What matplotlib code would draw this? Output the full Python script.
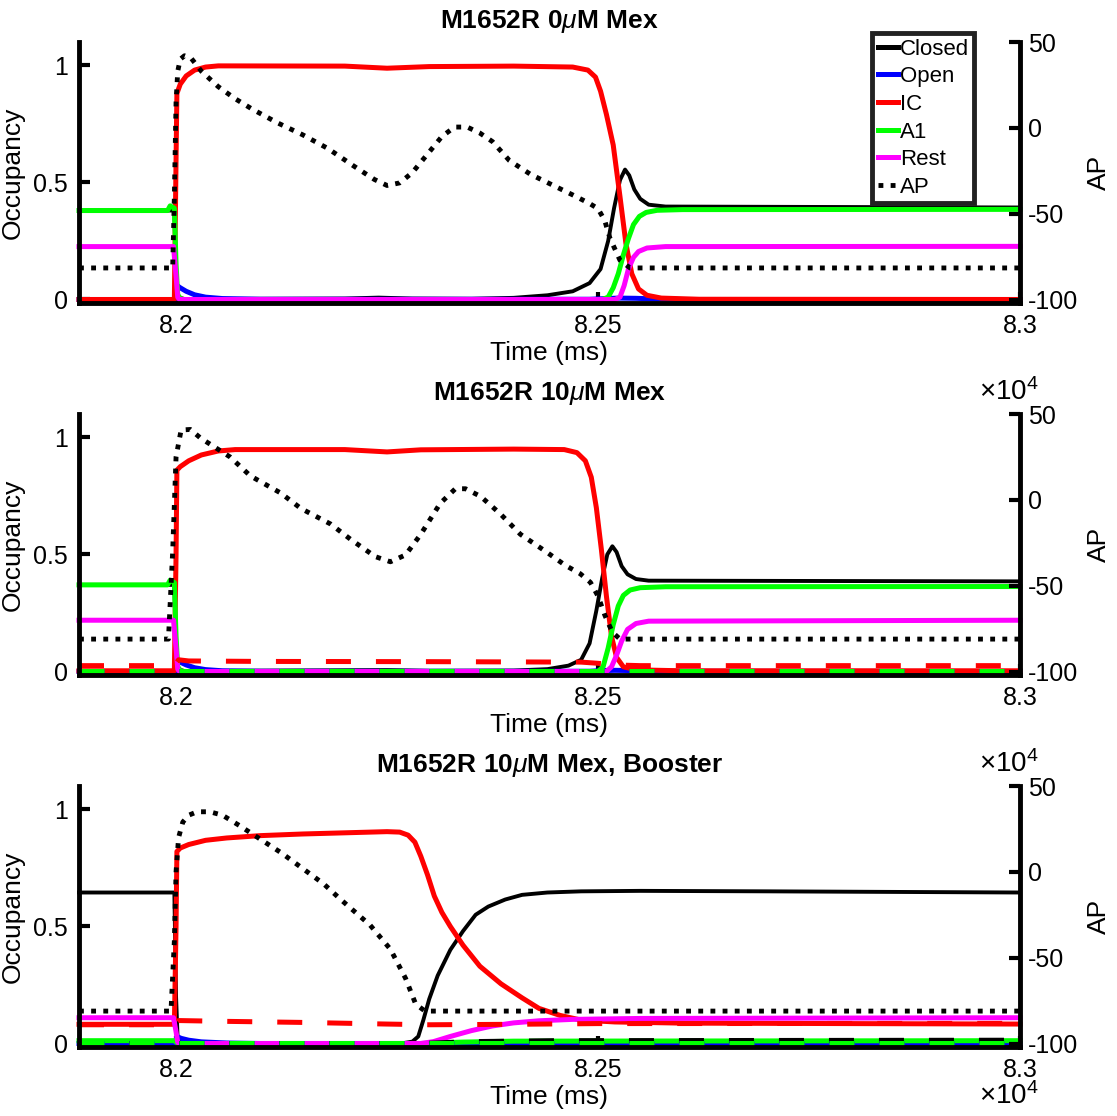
import numpy as np
import matplotlib
matplotlib.use('Agg')
import matplotlib.pyplot as plt
from matplotlib.lines import Line2D

plt.rcParams['font.family'] = ['Liberation Sans', 'DejaVu Sans']
plt.rcParams['mathtext.fontset'] = 'custom'
plt.rcParams['mathtext.rm'] = 'Liberation Sans'
plt.rcParams['mathtext.it'] = 'Liberation Sans:italic'
plt.rcParams['mathtext.bf'] = 'Liberation Sans:bold'
plt.rcParams['axes.unicode_minus'] = False

# ---- data (time in ms, occupancy 0..1, AP in mV) ----
titles = [r'M1652R 0$\mu$M Mex', r'M1652R 10$\mu$M Mex', r'M1652R 10$\mu$M Mex, Booster']
xticks = [82000, 82500, 83000]
xticklabels = ['8.2', '8.25', '8.3']
state_names = ['Closed', 'Open', 'IC', 'A1', 'Rest']
state_colors = ['black', '#0000ff', '#ff0000', '#00ff00', '#ff00ff']

# panel 1: 0 uM Mex
p1_closed = [(81885, 0.38), (81998, 0.38), (82000, 0.1), (82002, 0.01), (82010, 0.002), (82200, 0.004),
             (82240, 0.008), (82280, 0.004), (82350, 0.003), (82400, 0.007), (82440, 0.018), (82470, 0.035),
             (82490, 0.07), (82503, 0.13), (82512, 0.25), (82519, 0.39), (82526, 0.51), (82532, 0.555),
             (82537, 0.53), (82543, 0.47), (82550, 0.43), (82560, 0.405), (82580, 0.397), (83000, 0.393)]
p1_open = [(81885, 0), (81999, 0), (82001, 0.06), (82005, 0.05), (82012, 0.035), (82022, 0.02), (82035, 0.01),
           (82055, 0.004), (82100, 0.001), (82490, 0.001), (82510, 0.004), (82525, 0.006), (82545, 0.005),
           (82570, 0.002), (82600, 0), (83000, 0)]
p1_ic = [(81885, 0), (81998, 0), (82000, 0.6), (82001, 0.88), (82005, 0.92), (82012, 0.955), (82022, 0.98),
         (82035, 0.993), (82050, 0.998), (82200, 0.997), (82250, 0.988), (82300, 0.995), (82400, 0.997),
         (82470, 0.993), (82488, 0.98), (82497, 0.95), (82503, 0.89), (82510, 0.79), (82518, 0.66),
         (82526, 0.44), (82533, 0.24), (82540, 0.11), (82548, 0.045), (82558, 0.018), (82575, 0.006),
         (82620, 0.001), (83000, 0)]
p1_a1 = [(81885, 0.38), (81990, 0.38), (81993, 0.4), (81998, 0.39), (82000, 0.15), (82002, 0.02), (82006, 0),
         (82505, 0), (82512, 0.01), (82518, 0.05), (82524, 0.11), (82530, 0.19), (82536, 0.26), (82542, 0.32),
         (82549, 0.355), (82557, 0.372), (82570, 0.381), (82600, 0.384), (83000, 0.385)]
p1_rest = [(81885, 0.226), (81997, 0.226), (82000, 0.1), (82002, 0.01), (82004, 0), (82520, 0), (82526, 0.01),
           (82531, 0.06), (82536, 0.13), (82542, 0.18), (82548, 0.205), (82558, 0.22), (82580, 0.226),
           (83000, 0.227)]
p1_ap = [(81885, -81.5), (81996, -81.5), (81998, -40), (82000, 15), (82002, 33), (82005, 40), (82010, 42),
         (82018, 40.5), (82030, 33), (82050, 24), (82070, 17), (82090, 11), (82120, 3), (82150, -4),
         (82180, -12), (82210, -22), (82235, -30), (82250, -33.5), (82265, -32), (82280, -26), (82300, -14),
         (82315, -5), (82330, 0.5), (82345, 0.5), (82360, -3), (82375, -8), (82395, -19), (82420, -27),
         (82445, -33), (82470, -39), (82490, -44), (82500, -47), (82508, -54), (82514, -64), (82526, -77),
         (82538, -81.5), (83000, -81.5)]

# panel 2: 10 uM Mex
p2_closed = [(81885, 0.37), (81998, 0.37), (82000, 0.1), (82002, 0.01), (82010, 0.002), (82250, 0.006),
             (82300, 0.003), (82400, 0.004), (82440, 0.01), (82465, 0.025), (82480, 0.05), (82490, 0.12),
             (82498, 0.26), (82505, 0.4), (82511, 0.5), (82517, 0.535), (82522, 0.51), (82528, 0.45),
             (82535, 0.415), (82545, 0.395), (82560, 0.388), (83000, 0.385)]
p2_open = [(81885, 0), (81999, 0), (82001, 0.05), (82005, 0.04), (82012, 0.028), (82022, 0.016), (82035, 0.008),
           (82055, 0.003), (82100, 0.001), (82490, 0.001), (82505, 0.004), (82520, 0.005), (82540, 0.004),
           (82570, 0.001), (83000, 0)]
p2_ic = [(81885, 0.003), (81998, 0.003), (82000, 0.5), (82001, 0.86), (82005, 0.875), (82015, 0.9),
         (82030, 0.925), (82050, 0.942), (82070, 0.948), (82200, 0.948), (82250, 0.938), (82290, 0.947),
         (82400, 0.95), (82460, 0.948), (82475, 0.935), (82485, 0.9), (82492, 0.83), (82498, 0.7),
         (82504, 0.52), (82510, 0.32), (82516, 0.15), (82522, 0.06), (82530, 0.02), (82545, 0.007),
         (82600, 0.003), (83000, 0.003)]
p2_a1 = [(81885, 0.37), (81990, 0.37), (81993, 0.39), (81998, 0.38), (82000, 0.15), (82002, 0.02), (82006, 0),
         (82500, 0), (82506, 0.02), (82512, 0.1), (82518, 0.2), (82524, 0.28), (82530, 0.325), (82538, 0.348),
         (82550, 0.358), (82580, 0.362), (83000, 0.363)]
p2_rest = [(81885, 0.219), (81997, 0.219), (82000, 0.1), (82002, 0.01), (82004, 0), (82510, 0), (82516, 0.02),
           (82522, 0.07), (82528, 0.13), (82535, 0.18), (82545, 0.205), (82560, 0.215), (83000, 0.219)]
p2_ap = [(81885, -81), (81991, -81), (81996, -30), (82000, 25), (82006, 40.7), (82017, 41), (82029, 36),
         (82064, 25), (82088, 14), (82124, 4), (82148, -5), (82183, -14), (82207, -23), (82236, -33),
         (82254, -36), (82272, -32), (82290, -20), (82313, -2), (82331, 6.5), (82343, 6.5), (82361, 2),
         (82384, -8), (82408, -20), (82438, -30), (82461, -38), (82479, -43), (82491, -48), (82500, -56),
         (82508, -67), (82517, -77), (82526, -81), (83000, -81)]
p2_ic_drug = [(81885, 0.025), (81998, 0.025), (82003, 0.05), (82015, 0.045), (82100, 0.043), (82300, 0.042),
              (82480, 0.04), (82500, 0.035), (82520, 0.028), (82550, 0.025), (83000, 0.025)]
p2_a1_drug = [(81885, 0.003), (83000, 0.003)]
p2_open_drug = [(81885, 0.002), (83000, 0.002)]

# panel 3: 10 uM Mex, booster
p3_closed = [(81885, 0.645), (81998, 0.645), (82000, 0.2), (82002, 0.01), (82010, 0.002), (82270, 0.002),
             (82280, 0.008), (82287, 0.03), (82293, 0.1), (82300, 0.19), (82310, 0.29), (82325, 0.4),
             (82340, 0.48), (82355, 0.55), (82370, 0.585), (82390, 0.615), (82410, 0.635), (82440, 0.645),
             (82480, 0.65), (82550, 0.652), (82700, 0.65), (83000, 0.645)]
p3_open = [(81885, 0), (81999, 0), (82001, 0.03), (82006, 0.022), (82015, 0.014), (82030, 0.007), (82060, 0.002),
           (82100, 0), (83000, 0)]
p3_ic = [(81885, 0.082), (81998, 0.082), (82000, 0.5), (82001, 0.82), (82005, 0.835), (82015, 0.85),
         (82035, 0.868), (82060, 0.878), (82100, 0.888), (82150, 0.895), (82200, 0.9), (82250, 0.905),
         (82265, 0.903), (82275, 0.89), (82283, 0.86), (82290, 0.8), (82298, 0.72), (82306, 0.63),
         (82315, 0.56), (82325, 0.5), (82340, 0.42), (82360, 0.33), (82385, 0.255), (82410, 0.195),
         (82430, 0.15), (82455, 0.12), (82480, 0.1), (82520, 0.092), (82600, 0.087), (83000, 0.083)]
p3_a1 = [(81885, 0.012), (81998, 0.012), (82002, 0), (82290, 0), (82340, 0.006), (82400, 0.01), (83000, 0.012)]
p3_rest = [(81885, 0.11), (81997, 0.11), (82000, 0.05), (82002, 0.005), (82004, 0), (82290, 0), (82305, 0.008),
           (82325, 0.03), (82350, 0.055), (82375, 0.075), (82400, 0.088), (82430, 0.097), (82470, 0.103),
           (82550, 0.107), (83000, 0.11)]
p3_ap = [(81885, -81), (81994, -81), (81998, -40), (82000, 0), (82003, 20), (82008, 29), (82015, 33),
         (82025, 35), (82040, 35), (82055, 33), (82075, 27), (82100, 19), (82125, 11), (82150, 2),
         (82175, -7), (82195, -16), (82230, -31), (82254, -45), (82272, -62), (82284, -77), (82295, -81),
         (83000, -81)]
p3_ic_drug = [(81885, 0.08), (81998, 0.08), (82003, 0.098), (82050, 0.095), (82150, 0.09), (82250, 0.083),
              (82300, 0.08), (82400, 0.082), (82500, 0.085), (83000, 0.086)]
p3_a1_drug = [(81885, 0.003), (83000, 0.003)]
p3_open_drug = [(81885, 0.002), (83000, 0.002)]
p3_closed_drug = [(81885, 0), (82290, 0), (82350, 0.008), (82450, 0.012), (83000, 0.014)]

ap_style = (0, (1.0, 1.5))


def xy(pts):
    a = np.array(pts, dtype=float)
    return a[:, 0], a[:, 1]


def draw_panel(ax, states, ap, drugs, title, exp_y):
    for i, pts in enumerate(states):
        t, v = xy(pts)
        ax.plot(t, v, color=state_colors[i], lw=2.8 if i == 0 else 3.6, clip_on=False,
                solid_joinstyle='round')
    for pts, col in drugs:
        t, v = xy(pts)
        ax.plot(t, v, color=col, lw=3.6, linestyle=(0, (5, 5)), clip_on=False)

    ax.set_xlim(81885, 83000)
    ax.set_ylim(-0.015, 1.1)
    ax.set_yticks([0, 0.5, 1])
    ax.set_yticklabels(['0', '0.5', '1'])
    ax.set_xticks(xticks)
    ax.set_xticklabels(xticklabels)
    ax.set_ylabel('Occupancy', fontsize=19, labelpad=6)
    ax.set_xlabel('Time (ms)', fontsize=19, labelpad=2)
    ax.set_title(title, fontsize=19, fontweight='bold', pad=10)
    ax.spines['top'].set_visible(False)
    ax.spines['right'].set_visible(False)
    for s in ['left', 'bottom']:
        ax.spines[s].set_linewidth(3.5)
    ax.tick_params(direction='in', length=8, width=3, labelsize=18, pad=8)
    # the x10^4 exponent under the right end of the time axis
    ax.text(1.02, exp_y, r'$\times$10$^4$', transform=ax.transAxes, ha='right', va='center', fontsize=20)

    ax2 = ax.twinx()
    t, v = xy(ap)
    ax2.plot(t, v, color='black', lw=3.5, linestyle=ap_style, dash_capstyle='butt', clip_on=False)
    ax2.set_ylim(-101.9, 50)
    ax2.set_yticks([-100, -50, 0, 50])
    ax2.set_ylabel('AP', fontsize=19, labelpad=6)
    ax2.spines['top'].set_visible(False)
    ax2.spines['left'].set_visible(False)
    ax2.spines['bottom'].set_visible(False)
    ax2.spines['right'].set_linewidth(3.5)
    ax2.tick_params(direction='in', length=8, width=3, labelsize=18, pad=6)
    return ax2


fig = plt.figure(figsize=(11.17, 11.16), dpi=100)
left, width, height = 79 / 1117, 941 / 1117, 261 / 1116
bottoms = [1 - 303 / 1116, 1 - 675 / 1116, 1 - 1047 / 1116]

ax1 = fig.add_axes([left, bottoms[0], width, height])
ax1b = draw_panel(ax1, [p1_closed, p1_open, p1_ic, p1_a1, p1_rest], p1_ap, [], titles[0], -0.34)

ax2 = fig.add_axes([left, bottoms[1], width, height])
draw_panel(ax2, [p2_closed, p2_open, p2_ic, p2_a1, p2_rest], p2_ap,
           [(p2_open_drug, '#0000ff'), (p2_ic_drug, '#ff0000'), (p2_a1_drug, '#00ff00')], titles[1], -0.34)

ax3 = fig.add_axes([left, bottoms[2], width, height])
draw_panel(ax3, [p3_closed, p3_open, p3_ic, p3_a1, p3_rest], p3_ap,
           [(p3_closed_drug, 'black'), (p3_open_drug, '#0000ff'), (p3_ic_drug, '#ff0000'),
            (p3_a1_drug, '#00ff00')], titles[2], -0.19)

# legend
handles = [Line2D([], [], color=c, lw=3.6) for c in state_colors]
handles.append(Line2D([], [], color='black', lw=3.5, linestyle=ap_style, dash_capstyle='butt'))
leg = ax1b.legend(handles, state_names + ['AP'], loc='upper left',
                  bbox_to_anchor=(872 / 1117, 1 - 33 / 1116), bbox_transform=fig.transFigure,
                  fontsize=16, handlelength=0.9, handletextpad=0.1, labelspacing=0.3,
                  borderpad=0.25, borderaxespad=0, fancybox=False, framealpha=1)
leg.get_frame().set_edgecolor('#222222')
leg.get_frame().set_linewidth(3.5)

fig.savefig('out.png', dpi=100)
